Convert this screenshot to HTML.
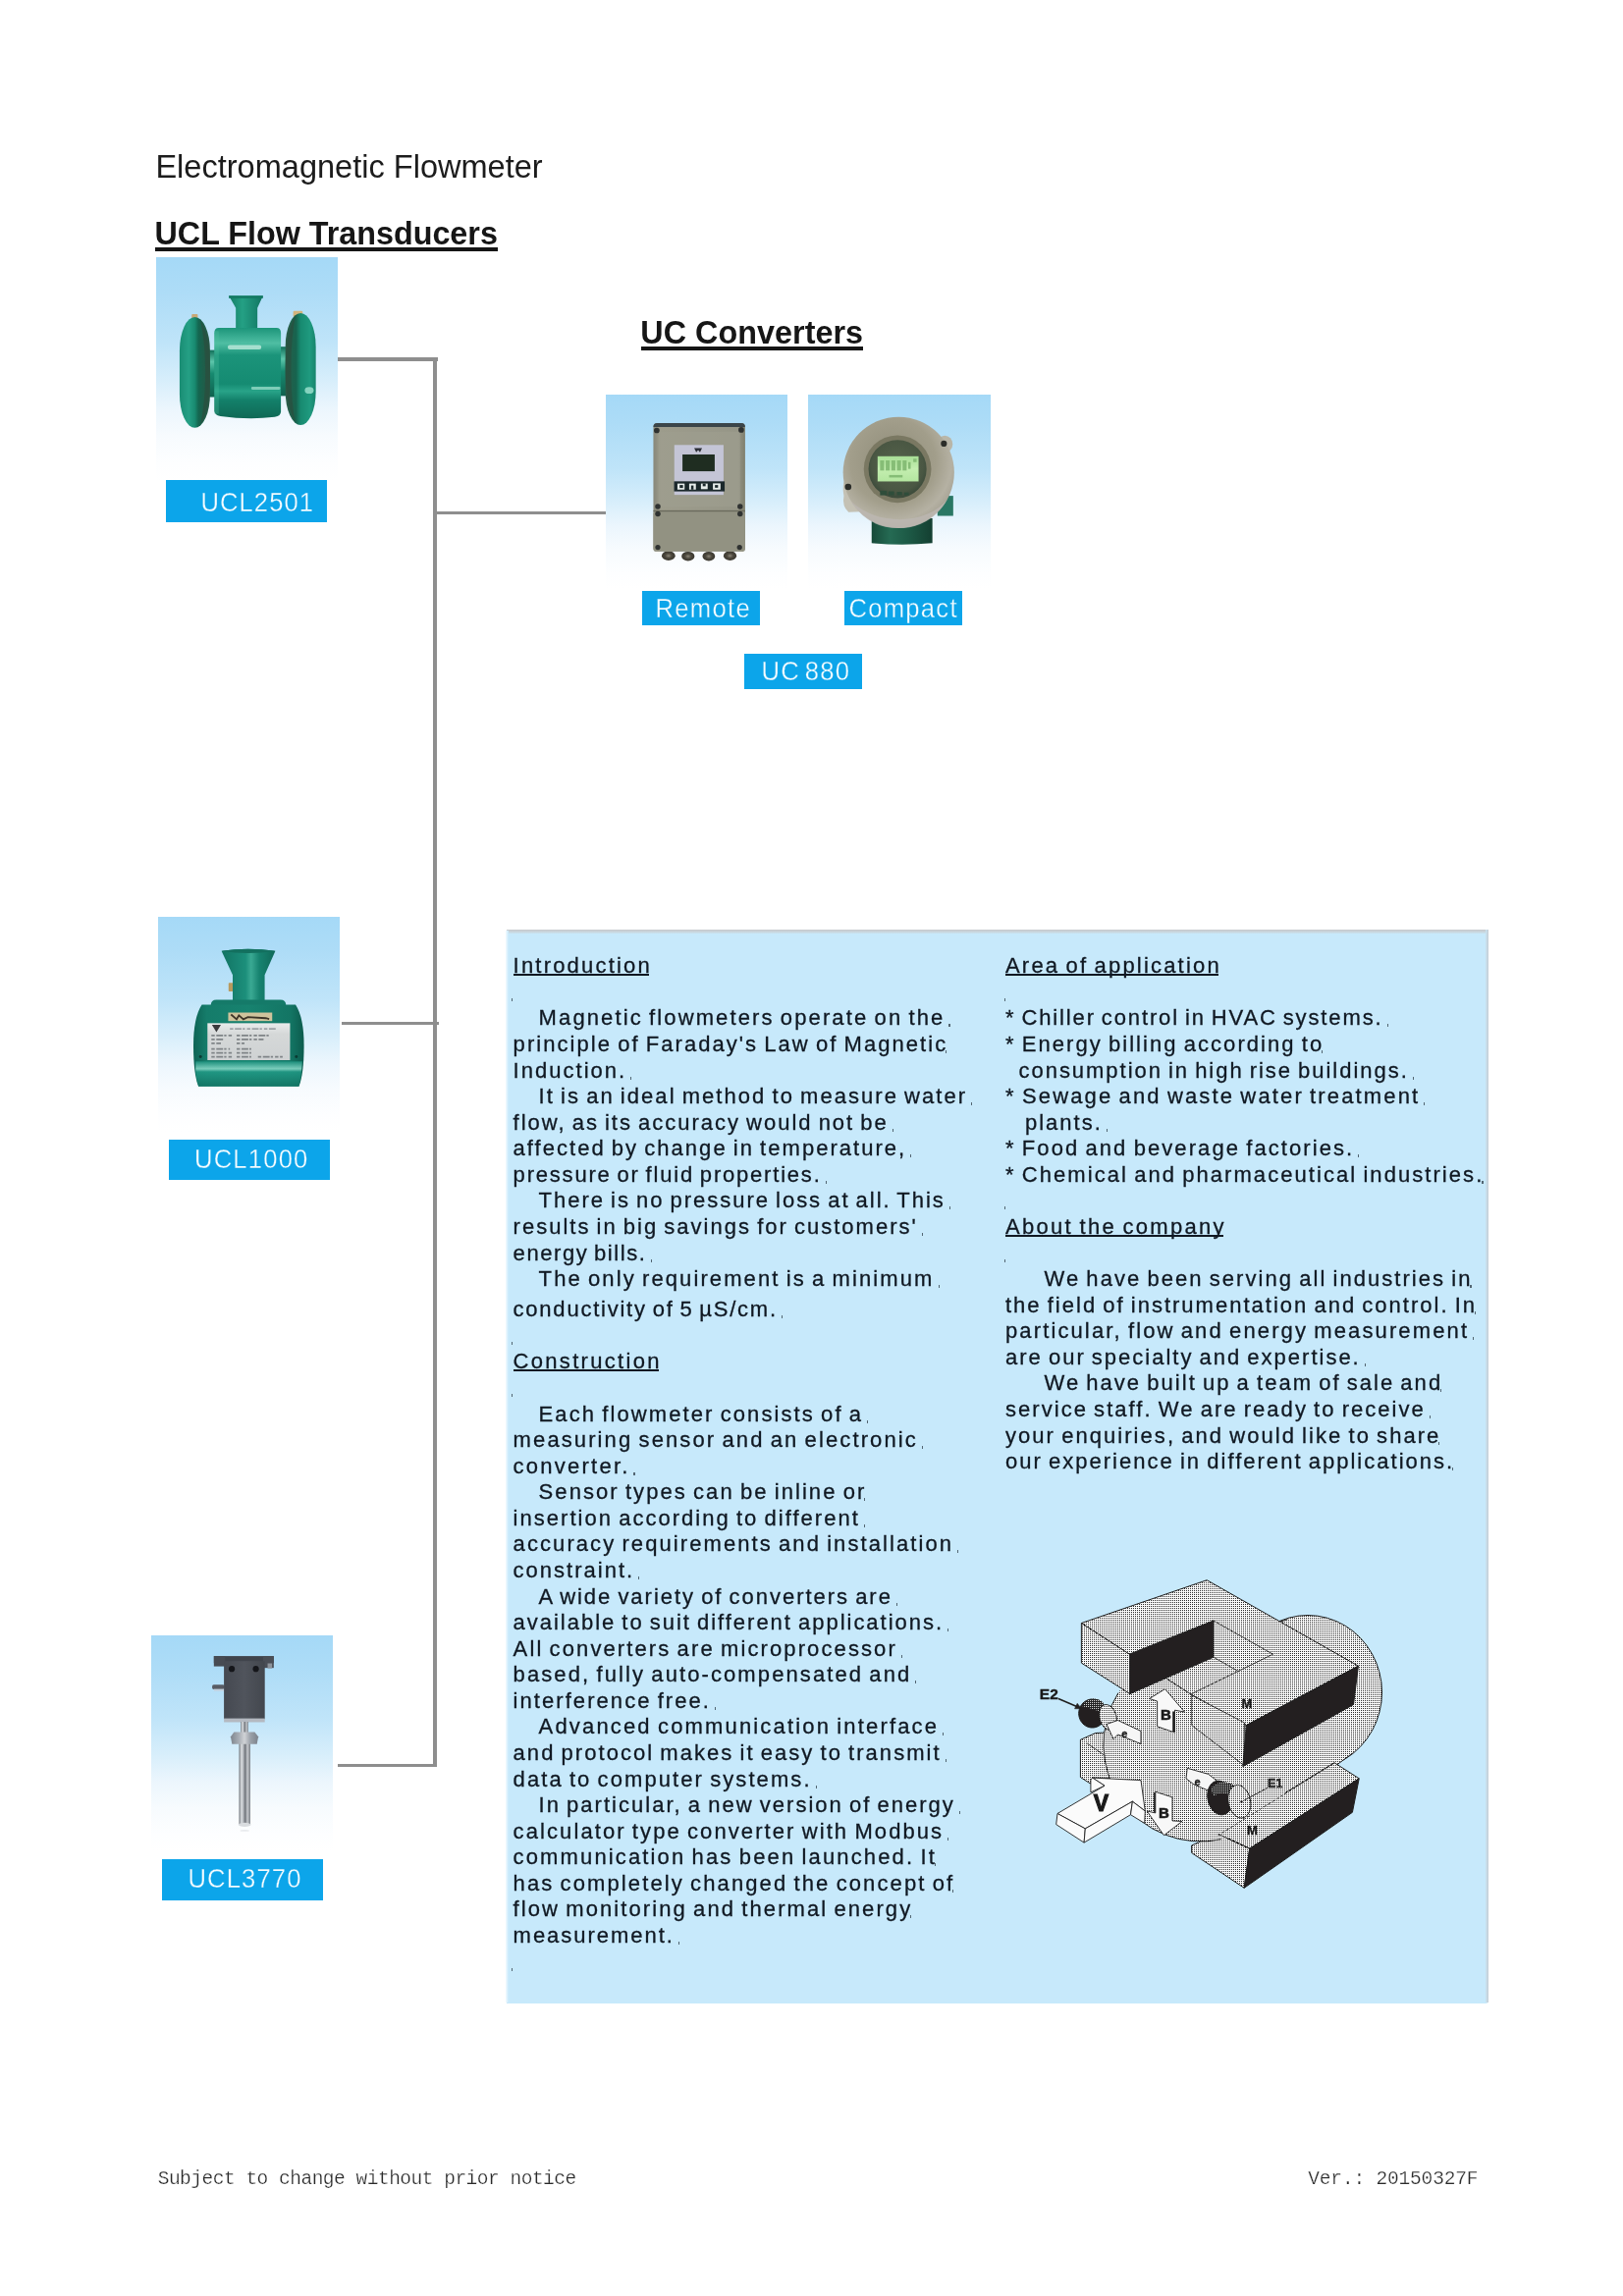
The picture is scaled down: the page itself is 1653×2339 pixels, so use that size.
<!DOCTYPE html>
<html><head><meta charset="utf-8"><title>Electromagnetic Flowmeter</title>
<style>html,body{margin:0;padding:0;background:#fff}
body{width:1653px;height:2339px;position:relative;overflow:hidden;font-family:"Liberation Sans",sans-serif;color:#1a1a1a}
.a{position:absolute}
.t{position:absolute;white-space:pre;line-height:1}
.b{position:absolute;white-space:pre;line-height:1;font-size:22.00px;letter-spacing:1.80px;word-spacing:-2px;color:#101822;-webkit-text-stroke:0.3px #101822}
.u{text-decoration:underline;text-decoration-thickness:1.7px;text-underline-offset:2.2px;text-decoration-skip-ink:none}
.g{position:absolute;background:#8e8e8e}
.k{position:absolute;width:1.2px;height:3px;background:#2c3a46;opacity:.75}
.ph{position:absolute;overflow:hidden}
.lb{position:absolute;background:#0ca5ea}
.ft{position:absolute;white-space:pre;line-height:1;font-family:"Liberation Mono",monospace;color:#2a2a2a;-webkit-text-stroke:0.25px #fff}
svg{position:absolute;left:0;top:0;overflow:visible}
</style></head><body><div id="pg" style="position:absolute;left:0;top:0;width:1653px;height:2339px;will-change:transform">
<div class="t" style="left:158.4px;top:153.8px;font-size:32.55px;color:#1c1c1c">Electromagnetic Flowmeter</div>
<div class="t" style="left:157.5px;top:221.6px;font-size:32.30px;font-weight:bold;color:#161616;transform:scaleY(1.04);transform-origin:0 84.65%">UCL Flow Transducers</div>
<div class="a" style="left:158.3px;top:252.3px;width:348.8px;height:3.5px;background:#161616"></div>
<div class="t" style="left:652.3px;top:322.7px;font-size:32.30px;font-weight:bold;color:#161616;letter-spacing:0.05px;transform:scaleY(1.04);transform-origin:0 84.65%">UC Converters</div>
<div class="a" style="left:653.1px;top:352.9px;width:225.9px;height:3.8px;background:#161616"></div>
<div class="g" style="left:344.0px;top:364.2px;width:102.0px;height:3.5px"></div>
<div class="g" style="left:441.1px;top:364.2px;width:3.9px;height:1435.8px"></div>
<div class="g" style="left:445.0px;top:520.9px;width:171.9px;height:3.1px"></div>
<div class="g" style="left:347.9px;top:1041.0px;width:99.0px;height:3.0px"></div>
<div class="g" style="left:344.0px;top:1797.0px;width:101.0px;height:3.0px"></div>
<div class="ph" style="left:159.0px;top:262.0px;width:185.0px;height:228.0px;background:linear-gradient(#a5d9f7 0%,#addcf7 15%,#bfe4f9 38%,#d7eefb 55%,#ecf6fd 68%,#f7fbfe 80%,#fdfeff 92%,#fff 100%)"><svg width="185" height="228" viewBox="0 0 1623 2000" preserveAspectRatio="none">
<defs>
<linearGradient id="a1" x1="0" y1="0" x2="0" y2="1"><stop offset="0" stop-color="#1c957a"/><stop offset=".17" stop-color="#4fbea3"/><stop offset=".3" stop-color="#1b947a"/><stop offset=".62" stop-color="#158b72"/><stop offset=".7" stop-color="#28a388"/><stop offset=".8" stop-color="#13806a"/><stop offset="1" stop-color="#0f6955"/></linearGradient>
<linearGradient id="a2" x1="0" y1="0" x2="1" y2="0"><stop offset="0" stop-color="#1a8d74"/><stop offset=".3" stop-color="#25a085"/><stop offset=".5" stop-color="#188a70"/><stop offset=".62" stop-color="#146650"/><stop offset="1" stop-color="#2a5543"/></linearGradient>
<linearGradient id="a3" x1="0" y1="0" x2="1" y2="0"><stop offset="0" stop-color="#2c5a47"/><stop offset=".35" stop-color="#17644f"/><stop offset=".5" stop-color="#178a70"/><stop offset=".8" stop-color="#1f9a7f"/><stop offset="1" stop-color="#17846c"/></linearGradient>
<linearGradient id="a4" x1="0" y1="0" x2="0" y2="1"><stop offset="0" stop-color="#116f59"/><stop offset=".25" stop-color="#5cc5aa"/><stop offset=".5" stop-color="#178a70"/><stop offset="1" stop-color="#0f614e"/></linearGradient>
<linearGradient id="a5" x1="0" y1="0" x2="1" y2="0"><stop offset="0" stop-color="#157d66"/><stop offset=".4" stop-color="#24a084"/><stop offset="1" stop-color="#127562"/></linearGradient>
</defs>
<!-- pipes -->
<rect x="420" y="830" width="120" height="420" fill="url(#a4)"/>
<rect x="1100" y="800" width="140" height="440" fill="url(#a4)"/>
<!-- bolts -->
<rect x="318" y="508" width="54" height="60" rx="8" fill="#c9a877"/>
<rect x="1225" y="480" width="84" height="56" rx="10" fill="#d2b37c"/>
<!-- left flange -->
<rect x="210" y="535" width="272" height="990" rx="136" ry="300" fill="url(#a2)"/>
<path d="M395,560 Q482,700 482,1030 Q482,1360 395,1500 Q440,1300 440,1030 Q440,760 395,560 Z" fill="#2a4f3f" opacity=".75"/>
<!-- right flange -->
<rect x="1155" y="500" width="272" height="1000" rx="136" ry="300" fill="url(#a3)"/>
<path d="M1245,520 Q1155,680 1155,1000 Q1155,1320 1245,1480 Q1205,1290 1205,1000 Q1205,720 1245,520 Z" fill="#2a4f3f" opacity=".7"/>
<ellipse cx="1368" cy="1190" rx="40" ry="30" fill="#9fe2cf" opacity=".8"/>
<!-- neck -->
<path d="M650,345 L955,345 L905,455 L905,640 L712,640 L712,455 Z" fill="url(#a5)"/>
<rect x="650" y="345" width="305" height="22" fill="#147a64"/>
<!-- body -->
<path d="M560,632 L1075,632 Q1115,632 1115,680 L1115,1380 Q1115,1420 1060,1428 Q820,1455 575,1420 Q520,1412 520,1370 L520,680 Q520,632 560,632 Z" fill="url(#a1)"/>
<rect x="640" y="785" width="300" height="40" rx="18" fill="#c9efe2" opacity=".75"/>
<rect x="850" y="1158" width="260" height="26" rx="10" fill="#a6e3d0" opacity=".7"/>
<rect x="520" y="660" width="40" height="740" fill="#4fbfa0" opacity=".3"/>
</svg>
</div>
<div class="ph" style="left:160.5px;top:934.0px;width:185.5px;height:219.0px;background:linear-gradient(#a5d9f7 0%,#addcf7 15%,#bfe4f9 38%,#d7eefb 55%,#ecf6fd 68%,#f7fbfe 80%,#fdfeff 92%,#fff 100%)"><svg width="185.5" height="219" viewBox="0 0 1623 1920" preserveAspectRatio="none">
<defs>
<linearGradient id="b1" x1="0" y1="0" x2="1" y2="0"><stop offset="0" stop-color="#0d6455"/><stop offset=".12" stop-color="#157c6a"/><stop offset=".5" stop-color="#17826f"/><stop offset=".88" stop-color="#137564"/><stop offset="1" stop-color="#0c5b4d"/></linearGradient>
<linearGradient id="b2" x1="0" y1="0" x2="1" y2="0"><stop offset="0" stop-color="#127363"/><stop offset=".45" stop-color="#1c8f7b"/><stop offset=".55" stop-color="#3aa993"/><stop offset=".7" stop-color="#178370"/><stop offset="1" stop-color="#106858"/></linearGradient>
<linearGradient id="b3" x1="0" y1="0" x2="0" y2="1"><stop offset="0" stop-color="#1c917e"/><stop offset=".3" stop-color="#8edccb"/><stop offset=".42" stop-color="#219a86"/><stop offset="1" stop-color="#137564"/></linearGradient>
<linearGradient id="b4" x1="0" y1="0" x2="0" y2="1"><stop offset="0" stop-color="#e9ebeb"/><stop offset=".3" stop-color="#d5d8d8"/><stop offset="1" stop-color="#cfd2d3"/></linearGradient>
</defs>
<rect x="628" y="590" width="40" height="76" rx="6" fill="#b89a5e"/>
<path d="M565,305 Q800,270 1045,305 L950,520 L950,760 L665,760 L665,520 Z" fill="url(#b2)"/>
<path d="M565,305 Q800,270 1045,305 Q800,345 565,305 Z" fill="#13705f"/>
<path d="M470,790 Q470,740 520,740 L1090,740 Q1140,740 1140,790 Z" fill="#157a69"/>
<path d="M390,785 L1225,785 Q1300,900 1300,1150 Q1300,1400 1255,1515 L360,1515 Q315,1400 315,1150 Q315,900 390,785 Z" fill="url(#b1)"/>
<path d="M335,1290 L1285,1290 Q1275,1430 1255,1515 L360,1515 Q330,1430 335,1290 Z" fill="url(#b3)" opacity=".85"/>
<rect x="625" y="855" width="392" height="76" fill="#cfc39c"/>
<path d="M650,872 L700,915 L720,880 L760,915 L800,895 L960,905 L990,912" fill="none" stroke="#3d3528" stroke-width="16"/>
<rect x="440" y="950" width="736" height="330" fill="url(#b4)"/>
<path d="M480,965 L560,965 L520,1030 Z" fill="#3a3a3c"/>
<g stroke="#7f8487" stroke-width="16" stroke-dasharray="30 14 60 10 20 18">
<line x1="640" y1="1000" x2="1050" y2="1000" stroke="#9ea3a6"/>
<line x1="475" y1="1060" x2="660" y2="1060"/><line x1="700" y1="1060" x2="1000" y2="1060"/>
<line x1="475" y1="1095" x2="580" y2="1095"/><line x1="700" y1="1095" x2="940" y2="1095"/>
<line x1="475" y1="1130" x2="560" y2="1130"/><line x1="700" y1="1130" x2="770" y2="1130"/>
<line x1="475" y1="1180" x2="640" y2="1180"/><line x1="700" y1="1180" x2="830" y2="1180"/>
<line x1="475" y1="1215" x2="660" y2="1215"/><line x1="700" y1="1215" x2="830" y2="1215"/>
<line x1="475" y1="1250" x2="660" y2="1250"/><line x1="700" y1="1250" x2="830" y2="1250"/><line x1="890" y1="1250" x2="1110" y2="1250"/>
</g>
<circle cx="378" cy="1250" r="13" fill="#0a3a32"/><circle cx="1232" cy="1250" r="13" fill="#0a3a32"/>
</svg>
</div>
<div class="ph" style="left:154.0px;top:1666.0px;width:185.0px;height:220.0px;background:linear-gradient(#a5d9f7 0%,#addcf7 15%,#bfe4f9 38%,#d7eefb 55%,#ecf6fd 68%,#f7fbfe 80%,#fdfeff 92%,#fff 100%)"><svg width="185" height="220" viewBox="0 0 1623 1930" preserveAspectRatio="none">
<defs>
<linearGradient id="c1" x1="0" y1="0" x2="1" y2="0"><stop offset="0" stop-color="#6f747a"/><stop offset=".22" stop-color="#dfe2e5"/><stop offset=".45" stop-color="#9a9ea4"/><stop offset=".55" stop-color="#6e7278"/><stop offset=".75" stop-color="#c9ccd0"/><stop offset="1" stop-color="#73777d"/></linearGradient>
<linearGradient id="c2" x1="0" y1="0" x2="1" y2="0"><stop offset="0" stop-color="#454951"/><stop offset=".5" stop-color="#50545c"/><stop offset="1" stop-color="#43474e"/></linearGradient>
<linearGradient id="c3" x1="0" y1="0" x2="1" y2="0"><stop offset="0" stop-color="#7e858e"/><stop offset=".3" stop-color="#a9aeb5"/><stop offset=".5" stop-color="#d0d3d6"/><stop offset=".72" stop-color="#9aa0a8"/><stop offset="1" stop-color="#7b828b"/></linearGradient>
</defs>
<rect x="545" y="440" width="110" height="42" rx="14" fill="#585c64"/>
<rect x="560" y="478" width="92" height="20" fill="#c5ced8" opacity=".8"/>
<rect x="560" y="185" width="535" height="62" fill="#40444c"/>
<rect x="560" y="185" width="100" height="92" fill="#474b53"/>
<rect x="1000" y="185" width="95" height="106" fill="#4a4e56"/>
<rect x="1040" y="250" width="40" height="45" fill="#8d939b"/>
<rect x="650" y="230" width="365" height="518" fill="url(#c2)"/>
<circle cx="720" cy="300" r="27" fill="#15161a"/><circle cx="935" cy="300" r="27" fill="#15161a"/>
<rect x="650" y="742" width="365" height="34" fill="#b4b9c1"/>
<rect x="800" y="772" width="66" height="100" fill="url(#c1)"/>
<rect x="785" y="965" width="100" height="725" fill="url(#c1)"/>
<path d="M740,865 L925,865 L957,905 L945,972 L722,972 L710,905 Z" fill="url(#c3)"/>
<ellipse cx="835" cy="1692" rx="57" ry="18" fill="#d9dcdf"/>
<ellipse cx="835" cy="1745" rx="40" ry="8" fill="#dfe3e6" opacity=".7"/>
</svg>
</div>
<div class="ph" style="left:617.0px;top:402.0px;width:185.0px;height:198.0px;background:linear-gradient(#a5d9f7 0%,#addcf7 15%,#bfe4f9 38%,#d7eefb 55%,#ecf6fd 68%,#f7fbfe 80%,#fdfeff 92%,#fff 100%)"><svg width="185" height="198" viewBox="0 0 1623 1737" preserveAspectRatio="none">
<defs>
<linearGradient id="d1" x1="0" y1="0" x2="1" y2="0"><stop offset="0" stop-color="#87877a"/><stop offset=".08" stop-color="#9d9c8c"/><stop offset=".92" stop-color="#969687"/><stop offset="1" stop-color="#7f7f6d"/></linearGradient>
<radialGradient id="d2"><stop offset="0" stop-color="#8a8577"/><stop offset=".5" stop-color="#4b473d"/><stop offset="1" stop-color="#3a372f"/></radialGradient>
</defs>
<g fill="url(#d2)"><ellipse cx="560" cy="1440" rx="60" ry="42"/><ellipse cx="735" cy="1445" rx="58" ry="42"/><ellipse cx="920" cy="1445" rx="56" ry="42"/><ellipse cx="1110" cy="1440" rx="58" ry="42"/></g>
<rect x="425" y="255" width="820" height="1147" rx="34" fill="url(#d1)"/>
<path d="M459,255 L1211,255 Q1245,255 1245,290 L425,290 Q425,255 459,255 Z" fill="#3b454a"/>
<rect x="425" y="1045" width="820" height="357" rx="20" fill="#929282"/>
<rect x="425" y="1034" width="820" height="12" fill="#6b6b5d"/>
<rect x="470" y="330" width="730" height="670" fill="#9f9f8f" opacity=".6"/>
<rect x="612" y="450" width="440" height="446" fill="#c4c5d6"/>
<rect x="685" y="535" width="288" height="150" fill="#1f2d21"/>
<path d="M790,478 L860,478 L842,515 L825,495 L808,515 Z" fill="#2a2d35"/>
<rect x="610" y="775" width="452" height="90" fill="#1b282b"/>
<g fill="#e6ecea"><rect x="640" y="795" width="64" height="54"/><rect x="745" y="795" width="60" height="54"/><rect x="850" y="795" width="60" height="50"/><rect x="957" y="793" width="68" height="56"/></g>
<g fill="#1b282b"><rect x="660" y="808" width="30" height="26"/><rect x="762" y="812" width="22" height="37"/><rect x="866" y="795" width="26" height="24"/><rect x="975" y="808" width="28" height="24"/></g>
<g fill="#2f3231"><circle cx="455" cy="320" r="25"/><circle cx="1210" cy="315" r="25"/><circle cx="465" cy="1000" r="24"/><circle cx="1200" cy="1000" r="24"/><circle cx="465" cy="1066" r="24"/><circle cx="1200" cy="1066" r="24"/><circle cx="465" cy="1365" r="23"/><circle cx="1195" cy="1365" r="23"/></g>
</svg>
</div>
<div class="ph" style="left:823.0px;top:402.0px;width:186.0px;height:198.0px;background:linear-gradient(#a5d9f7 0%,#addcf7 15%,#bfe4f9 38%,#d7eefb 55%,#ecf6fd 68%,#f7fbfe 80%,#fdfeff 92%,#fff 100%)"><svg width="186" height="198" viewBox="0 0 1623 1728" preserveAspectRatio="none">
<defs>
<linearGradient id="e1" x1="0" y1="0" x2="1" y2="0"><stop offset="0" stop-color="#174a39"/><stop offset=".3" stop-color="#256a53"/><stop offset=".6" stop-color="#1d5a46"/><stop offset="1" stop-color="#143f31"/></linearGradient>
<radialGradient id="e2" cx=".45" cy=".4" r=".62"><stop offset="0" stop-color="#8f8c79"/><stop offset=".62" stop-color="#a29e8b"/><stop offset=".85" stop-color="#b5b1a3"/><stop offset="1" stop-color="#a5a193"/></radialGradient>
<radialGradient id="e3" cx=".5" cy=".45" r=".55"><stop offset="0" stop-color="#56634c"/><stop offset=".8" stop-color="#4a5743"/><stop offset="1" stop-color="#3b4a3a"/></radialGradient>
<linearGradient id="e4" x1="0" y1="0" x2="0" y2="1"><stop offset="0" stop-color="#a8de96"/><stop offset=".5" stop-color="#c4eeb0"/><stop offset="1" stop-color="#b4e6a0"/></linearGradient>
</defs>
<rect x="1150" y="900" width="140" height="178" fill="#2a7764"/>
<path d="M565,1100 L1105,1100 L1105,1320 Q835,1345 565,1320 Z" fill="url(#e1)"/>
<ellipse cx="1215" cy="440" rx="70" ry="75" fill="#b9b6a8"/>
<path d="M330,760 Q300,800 318,900 Q300,990 360,1045 L470,1040 L440,760 Z" fill="#c4c1b4"/>
<circle cx="805" cy="692" r="494" fill="url(#e2)"/>
<path d="M380,950 Q560,1230 900,1180 Q1120,1140 1240,930 Q1100,1100 820,1110 Q560,1110 380,950 Z" fill="#bdb8b3" opacity=".8"/>
<circle cx="795" cy="662" r="300" fill="#7a7862"/>
<circle cx="795" cy="662" r="258" fill="url(#e3)"/>
<rect x="618" y="548" width="364" height="224" fill="url(#e4)"/>
<g fill="#86bd76"><rect x="640" y="585" width="36" height="90"/><rect x="690" y="585" width="36" height="90"/><rect x="740" y="585" width="36" height="90"/><rect x="790" y="585" width="36" height="90"/><rect x="840" y="585" width="36" height="90"/><rect x="890" y="600" width="22" height="60"/><rect x="720" y="715" width="120" height="22"/><rect x="935" y="570" width="30" height="30"/></g>
<g fill="#2f4d3a"><rect x="640" y="855" width="60" height="40"/><rect x="715" y="860" width="50" height="35"/><rect x="790" y="865" width="45" height="30"/><rect x="855" y="870" width="40" height="25"/></g>
<circle cx="1207" cy="436" r="27" fill="#2b2d29"/>
<circle cx="356" cy="820" r="29" fill="#2b2d29"/>
</svg>
</div>
<div class="lb" style="left:169.0px;top:489.1px;width:164.0px;height:43.3px"></div><div class="t" style="left:204.5px;top:500.3px;font-size:25.60px;letter-spacing:1.05px;word-spacing:0.00px;color:#f6fcff;-webkit-text-stroke:0.3px #0ca5ea;transform:scaleY(1.085);transform-origin:0 84.65%">UCL2501</div>
<div class="lb" style="left:172.0px;top:1160.9px;width:164.0px;height:40.8px"></div><div class="t" style="left:198.0px;top:1168.5px;font-size:25.60px;letter-spacing:1.20px;word-spacing:0.00px;color:#f6fcff;-webkit-text-stroke:0.3px #0ca5ea;transform:scaleY(1.085);transform-origin:0 84.65%">UCL1000</div>
<div class="lb" style="left:165.0px;top:1894.1px;width:164.1px;height:41.8px"></div><div class="t" style="left:191.4px;top:1902.3px;font-size:25.60px;letter-spacing:1.15px;word-spacing:0.00px;color:#f6fcff;-webkit-text-stroke:0.3px #0ca5ea;transform:scaleY(1.085);transform-origin:0 84.65%">UCL3770</div>
<div class="lb" style="left:654.0px;top:602.2px;width:120.0px;height:35.0px"></div><div class="t" style="left:667.5px;top:608.3px;font-size:25.60px;letter-spacing:1.30px;word-spacing:0.00px;color:#f6fcff;-webkit-text-stroke:0.3px #0ca5ea;transform:scaleY(1.060);transform-origin:0 84.65%">Remote</div>
<div class="lb" style="left:860.0px;top:602.2px;width:120.0px;height:35.0px"></div><div class="t" style="left:864.5px;top:608.3px;font-size:25.60px;letter-spacing:1.27px;word-spacing:0.00px;color:#f6fcff;-webkit-text-stroke:0.3px #0ca5ea;transform:scaleY(1.060);transform-origin:0 84.65%">Compact</div>
<div class="lb" style="left:758.2px;top:666.1px;width:119.8px;height:35.5px"></div><div class="t" style="left:775.5px;top:672.4px;font-size:25.60px;letter-spacing:1.25px;word-spacing:-3.50px;color:#f6fcff;-webkit-text-stroke:0.3px #0ca5ea;transform:scaleY(1.060);transform-origin:0 84.65%">UC 880</div>
<div class="a" style="left:515.5px;top:947px;width:1000.3px;height:1093.7px;background:#c7e9fb;border-radius:0 0 3px 0"></div>
<div class="a" style="left:515.5px;top:947px;width:1000.3px;height:4px;background:linear-gradient(#c6c8cb,#c9d6de 60%,#c9e4f2)"></div>
<div class="a" style="left:514.6px;top:948px;width:3.6px;height:1092px;background:linear-gradient(90deg,#f4fbff,#c7e9fb)"></div>
<div class="a" style="left:1512.5px;top:947px;width:3.3px;height:1093.3px;background:linear-gradient(90deg,#c9e4f2,#c4ccd4)"></div>
<div class="b" style="left:522.6px;top:972.8px;letter-spacing:2.20px">Introduction</div>
<div class="a" style="left:522.8px;top:992.2px;width:138.2px;height:2px;background:#101822"></div>
<div class="b" style="left:548.6px;top:1025.8px;letter-spacing:2.12px">Magnetic flowmeters operate on the</div>
<i class="k" style="left:966.4px;top:1043.2px"></i><div class="b" style="left:522.6px;top:1052.8px;letter-spacing:2.05px">principle of Faraday's Law of Magnetic</div>
<i class="k" style="left:963.0px;top:1070.2px"></i><div class="b" style="left:522.6px;top:1079.8px;letter-spacing:2.02px">Induction.</div>
<i class="k" style="left:642.2px;top:1097.2px"></i><div class="b" style="left:548.6px;top:1105.8px;letter-spacing:2.04px">It is an ideal method to measure water</div>
<i class="k" style="left:989.2px;top:1123.2px"></i><div class="b" style="left:522.6px;top:1132.8px;letter-spacing:1.99px">flow, as its accuracy would not be</div>
<i class="k" style="left:908.8px;top:1150.2px"></i><div class="b" style="left:522.6px;top:1158.8px;letter-spacing:2.03px">affected by change in temperature,</div>
<i class="k" style="left:927.3px;top:1176.2px"></i><div class="b" style="left:522.6px;top:1185.8px;letter-spacing:1.80px">pressure or fluid properties.</div>
<i class="k" style="left:840.8px;top:1203.2px"></i><div class="b" style="left:548.6px;top:1211.8px;letter-spacing:1.98px">There is no pressure loss at all. This</div>
<i class="k" style="left:966.7px;top:1229.2px"></i><div class="b" style="left:522.6px;top:1238.8px;letter-spacing:2.01px">results in big savings for customers'</div>
<i class="k" style="left:938.6px;top:1256.2px"></i><div class="b" style="left:522.6px;top:1265.8px;letter-spacing:1.58px">energy bills.</div>
<i class="k" style="left:663.0px;top:1283.2px"></i><div class="b" style="left:548.6px;top:1291.8px;letter-spacing:2.10px">The only requirement is a minimum</div>
<i class="k" style="left:955.5px;top:1309.2px"></i><div class="b" style="left:522.6px;top:1322.8px;letter-spacing:1.77px">conductivity of 5 µS/cm.</div>
<i class="k" style="left:796.0px;top:1340.2px"></i><div class="b" style="left:522.6px;top:1375.8px;letter-spacing:2.30px">Construction</div>
<div class="a" style="left:522.8px;top:1395.2px;width:147.8px;height:2px;background:#101822"></div>
<div class="b" style="left:548.6px;top:1429.8px;letter-spacing:2.09px">Each flowmeter consists of a</div>
<i class="k" style="left:883.1px;top:1447.2px"></i><div class="b" style="left:522.6px;top:1455.8px;letter-spacing:2.11px">measuring sensor and an electronic</div>
<i class="k" style="left:938.6px;top:1473.2px"></i><div class="b" style="left:522.6px;top:1482.8px;letter-spacing:2.24px">converter.</div>
<i class="k" style="left:645.4px;top:1500.2px"></i><div class="b" style="left:548.6px;top:1508.8px;letter-spacing:2.07px">Sensor types can be inline or</div>
<i class="k" style="left:880.3px;top:1526.2px"></i><div class="b" style="left:522.6px;top:1535.8px;letter-spacing:2.03px">insertion according to different</div>
<i class="k" style="left:879.9px;top:1553.2px"></i><div class="b" style="left:522.6px;top:1561.8px;letter-spacing:2.08px">accuracy requirements and installation</div>
<i class="k" style="left:974.8px;top:1579.2px"></i><div class="b" style="left:522.6px;top:1588.8px;letter-spacing:2.01px">constraint.</div>
<i class="k" style="left:650.2px;top:1606.2px"></i><div class="b" style="left:548.6px;top:1615.8px;letter-spacing:1.98px">A wide variety of converters are</div>
<i class="k" style="left:912.9px;top:1633.2px"></i><div class="b" style="left:522.6px;top:1641.8px;letter-spacing:1.98px">available to suit different applications.</div>
<i class="k" style="left:965.1px;top:1659.2px"></i><div class="b" style="left:522.6px;top:1668.8px;letter-spacing:2.11px">All converters are microprocessor</div>
<i class="k" style="left:917.7px;top:1686.2px"></i><div class="b" style="left:522.6px;top:1694.8px;letter-spacing:2.10px">based, fully auto-compensated and</div>
<i class="k" style="left:932.1px;top:1712.2px"></i><div class="b" style="left:522.6px;top:1721.8px;letter-spacing:2.06px">interference free.</div>
<i class="k" style="left:728.0px;top:1739.2px"></i><div class="b" style="left:548.6px;top:1747.8px;letter-spacing:2.16px">Advanced communication interface</div>
<i class="k" style="left:960.0px;top:1765.2px"></i><div class="b" style="left:522.6px;top:1774.8px;letter-spacing:2.04px">and protocol makes it easy to transmit</div>
<i class="k" style="left:962.6px;top:1792.2px"></i><div class="b" style="left:522.6px;top:1801.8px;letter-spacing:2.08px">data to computer systems.</div>
<i class="k" style="left:830.6px;top:1819.2px"></i><div class="b" style="left:548.6px;top:1827.8px;letter-spacing:2.02px">In particular, a new version of energy</div>
<i class="k" style="left:977.0px;top:1845.2px"></i><div class="b" style="left:522.6px;top:1854.8px;letter-spacing:2.09px">calculator type converter with Modbus</div>
<i class="k" style="left:965.1px;top:1872.2px"></i><div class="b" style="left:522.6px;top:1880.8px;letter-spacing:2.14px">communication has been launched. It</div>
<i class="k" style="left:951.8px;top:1898.2px"></i><div class="b" style="left:522.6px;top:1907.8px;letter-spacing:2.11px">has completely changed the concept of</div>
<i class="k" style="left:970.0px;top:1925.2px"></i><div class="b" style="left:522.6px;top:1933.8px;letter-spacing:2.09px">flow monitoring and thermal energy</div>
<i class="k" style="left:927.1px;top:1951.2px"></i><div class="b" style="left:522.6px;top:1960.8px;letter-spacing:1.97px">measurement.</div>
<i class="k" style="left:690.9px;top:1978.2px"></i><div class="b" style="left:1024.0px;top:972.8px;letter-spacing:2.19px">Area of application</div>
<div class="a" style="left:1024.2px;top:992.2px;width:216.6px;height:2px;background:#101822"></div>
<div class="b" style="left:1024.0px;top:1025.8px;letter-spacing:1.87px">* Chiller control in HVAC systems.</div>
<i class="k" style="left:1412.6px;top:1043.2px"></i><div class="b" style="left:1024.0px;top:1052.8px;letter-spacing:2.05px">* Energy billing according to</div>
<i class="k" style="left:1346.1px;top:1070.2px"></i><div class="b" style="left:1037.5px;top:1079.8px;letter-spacing:1.97px">consumption in high rise buildings.</div>
<i class="k" style="left:1438.7px;top:1097.2px"></i><div class="b" style="left:1024.0px;top:1105.8px;letter-spacing:2.14px">* Sewage and waste water treatment</div>
<i class="k" style="left:1450.1px;top:1123.2px"></i><div class="b" style="left:1044.0px;top:1132.8px;letter-spacing:2.00px">plants.</div>
<i class="k" style="left:1126.8px;top:1150.2px"></i><div class="b" style="left:1024.0px;top:1158.8px;letter-spacing:2.08px">* Food and beverage factories.</div>
<i class="k" style="left:1383.2px;top:1176.2px"></i><div class="b" style="left:1024.0px;top:1185.8px;letter-spacing:2.06px">* Chemical and pharmaceutical industries.</div>
<i class="k" style="left:1509.4px;top:1203.2px"></i><div class="b" style="left:1024.0px;top:1238.8px;letter-spacing:2.31px">About the company</div>
<div class="a" style="left:1024.2px;top:1258.2px;width:221.5px;height:2px;background:#101822"></div>
<div class="b" style="left:1063.5px;top:1291.8px;letter-spacing:2.05px">We have been serving all industries in</div>
<i class="k" style="left:1497.4px;top:1309.2px"></i><div class="b" style="left:1024.0px;top:1318.8px;letter-spacing:2.01px">the field of instrumentation and control. In</div>
<i class="k" style="left:1501.9px;top:1336.2px"></i><div class="b" style="left:1024.0px;top:1344.8px;letter-spacing:2.12px">particular, flow and energy measurement</div>
<i class="k" style="left:1500.1px;top:1362.2px"></i><div class="b" style="left:1024.0px;top:1371.8px;letter-spacing:2.00px">are our specialty and expertise.</div>
<i class="k" style="left:1389.7px;top:1389.2px"></i><div class="b" style="left:1063.5px;top:1397.8px;letter-spacing:2.03px">We have built up a team of sale and</div>
<i class="k" style="left:1467.0px;top:1415.2px"></i><div class="b" style="left:1024.0px;top:1424.8px;letter-spacing:2.04px">service staff. We are ready to receive</div>
<i class="k" style="left:1455.7px;top:1442.2px"></i><div class="b" style="left:1024.0px;top:1451.8px;letter-spacing:2.05px">your enquiries, and would like to share</div>
<i class="k" style="left:1465.3px;top:1469.2px"></i><div class="b" style="left:1024.0px;top:1477.8px;letter-spacing:2.02px">our experience in different applications.</div>
<i class="k" style="left:1479.1px;top:1495.2px"></i><i class="k" style="left:521.3px;top:1017.2px"></i><i class="k" style="left:521.3px;top:1367.2px"></i><i class="k" style="left:521.3px;top:1420.2px"></i><i class="k" style="left:521.3px;top:2005.2px"></i><i class="k" style="left:1023.2px;top:1017.2px"></i><i class="k" style="left:1023.2px;top:1229.2px"></i><i class="k" style="left:1023.2px;top:1283.2px"></i>
<svg width="1653" height="2339" viewBox="0 0 1653 2339" style="pointer-events:none">
<defs><pattern id="dt" x="0" y="0" width="2" height="2" patternUnits="userSpaceOnUse"><rect width="2" height="2" fill="#fbfbfb"/><rect width="1" height="1" fill="#2b2b2b"/></pattern>
<pattern id="dk" x="0" y="0" width="2" height="2" patternUnits="userSpaceOnUse"><rect width="2" height="2" fill="#222"/><rect width="1" height="1" fill="#ddd"/></pattern></defs>
<polygon points="1407.5,1724.0 1406.9,1734.2 1404.9,1744.3 1401.8,1754.0 1397.4,1763.2 1391.9,1771.8 1385.4,1779.5 1378.0,1786.3 1369.8,1792.0 1360.9,1796.5 1351.5,1799.8 1341.9,1801.8 1332.0,1802.5 1322.1,1801.8 1312.5,1799.8 1303.1,1796.5 1294.2,1792.0 1286.0,1786.3 1278.6,1779.5 1272.1,1771.8 1266.6,1763.2 1262.2,1754.0 1259.1,1744.3 1257.1,1734.2 1256.5,1724.0 1257.1,1713.8 1259.1,1703.7 1262.2,1694.0 1266.6,1684.8 1272.1,1676.2 1278.6,1668.5 1286.0,1661.7 1294.2,1656.0 1303.1,1651.5 1312.5,1648.2 1322.1,1646.2 1332.0,1645.5 1341.9,1646.2 1351.5,1648.2 1360.9,1651.5 1369.8,1656.0 1378.0,1661.7 1385.4,1668.5 1391.9,1676.2 1397.4,1684.8 1401.8,1694.0 1404.9,1703.7 1406.9,1713.8" fill="url(#dt)" stroke="#1e1e1e" stroke-width="1.00" stroke-linejoin="round" />
<polygon points="1281.7,1856.7 1377.7,1786.0 1311.5,1649.8 1196.6,1681.6" fill="url(#dt)" stroke="none" stroke-width="1.00" stroke-linejoin="round" />
<polyline points="1281.7,1856.7 1377.7,1786.0" fill="none" stroke="#1e1e1e" stroke-width="1.00" />
<polyline points="1196.6,1681.6 1311.5,1649.8" fill="none" stroke="#1e1e1e" stroke-width="1.00" />
<polygon points="1100.4,1772.3 1115.8,1765.5 1145.0,1764.0 1145.0,1812.0 1112.7,1811.1 1110.5,1817.0 1100.4,1810.5" fill="url(#dt)" stroke="#1e1e1e" stroke-width="1.00" stroke-linejoin="round" />
<polyline points="1107.2,1776.0 1125.0,1788.3" fill="none" stroke="#1e1e1e" stroke-width="0.80" />
<polygon points="1240.7,1868.4 1359.0,1795.7 1384.2,1811.8 1272.7,1883.2" fill="url(#dt)" stroke="#1e1e1e" stroke-width="1.00" stroke-linejoin="round" />
<polygon points="1213.6,1880.0 1240.7,1868.4 1272.7,1883.2 1267.2,1923.3 1213.6,1887.5" fill="url(#dt)" stroke="#1e1e1e" stroke-width="1.00" stroke-linejoin="round" />
<polygon points="1272.7,1883.2 1384.2,1811.8 1377.4,1846.3 1267.2,1923.3" fill="#231f20" stroke="#1e1e1e" stroke-width="1.00" stroke-linejoin="round" />
<circle cx="1223.0" cy="1777.0" r="99.0" fill="url(#dt)" stroke="none" stroke-width="1.00"/>
<path d="M1139.0,1724.5 A99.0,99.0 0 0 0 1243.6,1873.8" fill="none" stroke="#1e1e1e" stroke-width="1.00"/>
<polyline points="1357.7,1797.0 1240.7,1869.7" fill="none" stroke="#1e1e1e" stroke-width="0.80" stroke-dasharray="3 2"/>
<polyline points="1240.7,1868.4 1272.7,1883.2" fill="none" stroke="#1e1e1e" stroke-width="0.80" />
<polygon points="1101.4,1653.5 1229.2,1609.7 1383.4,1697.2 1269.4,1757.6 1213.7,1726.5 1150.9,1686.0" fill="url(#dt)" stroke="#1e1e1e" stroke-width="1.00" stroke-linejoin="round" />
<polygon points="1101.4,1653.5 1150.9,1685.5 1150.9,1725.6 1101.4,1694.1" fill="url(#dt)" stroke="#1e1e1e" stroke-width="1.00" stroke-linejoin="round" />
<polygon points="1150.9,1684.9 1235.9,1651.0 1235.9,1688.2 1150.9,1725.6" fill="#231f20" stroke="#1e1e1e" stroke-width="1.00" stroke-linejoin="round" />
<polyline points="1235.9,1651.0 1296.5,1685.2 1212.8,1726.0" fill="none" stroke="#1e1e1e" stroke-width="0.80" />
<polyline points="1235.9,1688.2 1262.0,1703.0" fill="none" stroke="#1e1e1e" stroke-width="0.80" />
<polygon points="1213.7,1727.0 1267.5,1755.0 1267.0,1798.5 1213.7,1757.5" fill="url(#dt)" stroke="#1e1e1e" stroke-width="0.80" stroke-linejoin="round" />
<polygon points="1269.4,1757.6 1383.4,1697.2 1378.5,1736.5 1265.8,1799.6" fill="#231f20" stroke="#1e1e1e" stroke-width="1.00" stroke-linejoin="round" />
<text x="1270.0" y="1739.5" font-family="Liberation Sans,sans-serif" font-weight="bold" font-size="13.0" fill="#1a1a1a" stroke="#1a1a1a" stroke-width="0.35" text-anchor="middle">M</text>
<text x="1275.5" y="1868.5" font-family="Liberation Sans,sans-serif" font-weight="bold" font-size="13.0" fill="#1a1a1a" stroke="#1a1a1a" stroke-width="0.35" text-anchor="middle">M</text>
<polygon points="1126.3,1745.5 1126.2,1747.4 1125.8,1749.3 1125.2,1751.0 1124.5,1752.8 1123.4,1754.3 1122.3,1755.8 1120.9,1757.0 1119.4,1758.1 1117.8,1758.9 1116.1,1759.5 1114.3,1759.9 1112.5,1760.0 1110.7,1759.9 1108.9,1759.5 1107.2,1758.9 1105.6,1758.1 1104.1,1757.0 1102.7,1755.8 1101.6,1754.3 1100.5,1752.8 1099.8,1751.0 1099.2,1749.3 1098.8,1747.4 1098.7,1745.5 1098.8,1743.6 1099.2,1741.7 1099.8,1740.0 1100.5,1738.2 1101.6,1736.7 1102.7,1735.2 1104.1,1734.0 1105.6,1732.9 1107.2,1732.1 1108.9,1731.5 1110.7,1731.1 1112.5,1731.0 1114.3,1731.1 1116.1,1731.5 1117.8,1732.1 1119.4,1732.9 1120.9,1734.0 1122.3,1735.2 1123.4,1736.7 1124.5,1738.2 1125.2,1740.0 1125.8,1741.7 1126.2,1743.6" fill="#231f20" stroke="#1e1e1e" stroke-width="1.00" stroke-linejoin="round" />
<path d="M1102,1738 A13.8,14.5 0 0 1 1124,1735 L1122,1744 Z" fill="url(#dk)"/>
<polygon points="1136.7,1747.3 1137.1,1749.0 1137.3,1750.7 1137.4,1752.3 1137.3,1754.0 1137.1,1755.5 1136.7,1757.0 1136.2,1758.3 1135.6,1759.4 1134.8,1760.4 1133.9,1761.2 1133.0,1761.9 1131.9,1762.3 1130.8,1762.4 1129.7,1762.4 1128.5,1762.1 1127.4,1761.6 1126.2,1761.0 1125.1,1760.1 1124.1,1759.0 1123.1,1757.8 1122.2,1756.4 1121.5,1754.9 1120.8,1753.3 1120.3,1751.7 1119.9,1750.0 1119.7,1748.3 1119.6,1746.7 1119.7,1745.0 1119.9,1743.5 1120.3,1742.0 1120.8,1740.7 1121.4,1739.6 1122.2,1738.6 1123.1,1737.8 1124.0,1737.1 1125.1,1736.7 1126.2,1736.6 1127.3,1736.6 1128.5,1736.9 1129.6,1737.4 1130.8,1738.0 1131.9,1738.9 1132.9,1740.0 1133.9,1741.2 1134.8,1742.6 1135.5,1744.1 1136.2,1745.7" fill="url(#dt)" stroke="#1e1e1e" stroke-width="1.00" stroke-linejoin="round" />
<text x="1068.3" y="1730.6" font-family="Liberation Sans,sans-serif" font-weight="bold" font-size="15.5" fill="#1a1a1a" stroke="#1a1a1a" stroke-width="0.35" text-anchor="middle">E2</text>
<polyline points="1078.0,1730.5 1099.0,1739.5" fill="none" stroke="#1e1e1e" stroke-width="1.60" />
<polygon points="1101.5,1740.7 1094.5,1740.8 1097.2,1735.2" fill="#231f20" stroke="#1e1e1e" stroke-width="0.50" stroke-linejoin="round" />
<polygon points="1127.0,1756.5 1138.5,1752.5 1162.0,1763.5 1162.0,1776.5 1138.5,1767.0 1134.0,1771.5" fill="#f6f6f6" stroke="#1e1e1e" stroke-width="0.90" stroke-linejoin="round" />
<text x="1145.3" y="1769.5" font-family="Liberation Sans,sans-serif" font-weight="bold" font-size="11.0" fill="#1a1a1a" stroke="#1a1a1a" stroke-width="0.35" text-anchor="middle">e</text>
<polygon points="1186.6,1720.6 1170.6,1730.5 1178.6,1733.0 1178.6,1758.8 1196.5,1765.0 1196.5,1742.2 1206.4,1744.0" fill="#f8f8f8" stroke="#1e1e1e" stroke-width="0.90" stroke-linejoin="round" />
<polyline points="1195.2,1743.5 1195.2,1764.0" fill="none" stroke="#1e1e1e" stroke-width="2.00" />
<text x="1187.3" y="1751.5" font-family="Liberation Sans,sans-serif" font-weight="bold" font-size="15.0" fill="#1a1a1a" stroke="#1a1a1a" stroke-width="0.60" text-anchor="middle">B</text>
<polygon points="1077.0,1847.5 1125.0,1819.1 1112.7,1811.1 1162.0,1813.6 1166.3,1845.0 1153.4,1835.2 1105.3,1862.9" fill="#fbfbfb" stroke="#1e1e1e" stroke-width="0.90" stroke-linejoin="round" />
<polygon points="1077.0,1847.5 1105.3,1862.9 1104.1,1877.1 1075.7,1858.6" fill="#fbfbfb" stroke="#1e1e1e" stroke-width="0.90" stroke-linejoin="round" />
<polygon points="1105.3,1862.9 1153.4,1835.2 1151.5,1848.7 1104.1,1877.1" fill="#fbfbfb" stroke="#1e1e1e" stroke-width="0.90" stroke-linejoin="round" />
<polygon points="1153.4,1835.2 1166.3,1845.0 1165.7,1857.4 1151.5,1848.7" fill="#fbfbfb" stroke="#1e1e1e" stroke-width="0.90" stroke-linejoin="round" />
<polygon points="1112.7,1811.1 1125.0,1819.1 1110.9,1825.9 1110.9,1813.0" fill="#fbfbfb" stroke="#1e1e1e" stroke-width="0.90" stroke-linejoin="round" />
<text x="1121.5" y="1844.5" font-family="Liberation Sans,sans-serif" font-weight="bold" font-size="23.0" fill="#1a1a1a" stroke="#1a1a1a" stroke-width="1.10" text-anchor="middle">V</text>
<polygon points="1176.8,1825.3 1194.0,1830.9 1194.0,1854.9 1203.9,1855.5 1185.4,1869.7 1168.2,1845.0 1176.8,1846.9" fill="#f8f8f8" stroke="#1e1e1e" stroke-width="0.90" stroke-linejoin="round" />
<polyline points="1175.9,1825.9 1175.9,1846.3" fill="none" stroke="#1e1e1e" stroke-width="1.60" />
<text x="1185.5" y="1851.5" font-family="Liberation Sans,sans-serif" font-weight="bold" font-size="15.0" fill="#1a1a1a" stroke="#1a1a1a" stroke-width="0.60" text-anchor="middle">B</text>
<polygon points="1209.2,1801.3 1230.8,1807.4 1239.4,1814.2 1230.8,1824.1 1216.0,1817.9 1208.0,1811.8" fill="#f6f6f6" stroke="#1e1e1e" stroke-width="0.90" stroke-linejoin="round" />
<text x="1219.5" y="1818.5" font-family="Liberation Sans,sans-serif" font-weight="bold" font-size="11.0" fill="#1a1a1a" stroke="#1a1a1a" stroke-width="0.35" text-anchor="middle">e</text>
<polygon points="1254.7,1828.9 1255.1,1831.2 1255.3,1833.4 1255.2,1835.6 1254.9,1837.8 1254.4,1839.9 1253.7,1841.8 1252.8,1843.5 1251.8,1845.0 1250.5,1846.3 1249.2,1847.4 1247.7,1848.1 1246.1,1848.6 1244.5,1848.8 1242.8,1848.7 1241.2,1848.3 1239.5,1847.6 1237.9,1846.7 1236.4,1845.4 1235.0,1844.0 1233.7,1842.3 1232.6,1840.5 1231.6,1838.4 1230.9,1836.3 1230.3,1834.1 1229.9,1831.8 1229.7,1829.6 1229.8,1827.4 1230.1,1825.2 1230.6,1823.1 1231.3,1821.2 1232.2,1819.5 1233.2,1818.0 1234.5,1816.7 1235.8,1815.6 1237.3,1814.9 1238.9,1814.4 1240.5,1814.2 1242.2,1814.3 1243.8,1814.7 1245.5,1815.4 1247.1,1816.3 1248.6,1817.6 1250.0,1819.0 1251.3,1820.7 1252.4,1822.5 1253.4,1824.6 1254.1,1826.7" fill="#231f20" stroke="#1e1e1e" stroke-width="1.00" stroke-linejoin="round" />
<path d="M1233,1822 Q1243,1810 1258,1819 L1252,1829 Q1243,1824 1236,1830 Z" fill="url(#dk)"/>
<polygon points="1273.3,1832.9 1273.6,1835.1 1273.8,1837.3 1273.8,1839.4 1273.6,1841.5 1273.1,1843.5 1272.5,1845.3 1271.8,1847.0 1270.8,1848.4 1269.8,1849.7 1268.5,1850.7 1267.2,1851.4 1265.8,1851.8 1264.4,1852.0 1262.9,1851.9 1261.4,1851.5 1259.9,1850.8 1258.4,1849.8 1257.1,1848.6 1255.8,1847.2 1254.6,1845.5 1253.5,1843.7 1252.6,1841.8 1251.9,1839.7 1251.3,1837.5 1251.0,1835.3 1250.8,1833.1 1250.8,1831.0 1251.0,1828.9 1251.5,1826.9 1252.1,1825.1 1252.8,1823.4 1253.8,1822.0 1254.8,1820.7 1256.1,1819.7 1257.4,1819.0 1258.8,1818.6 1260.2,1818.4 1261.7,1818.5 1263.2,1818.9 1264.7,1819.6 1266.2,1820.6 1267.5,1821.8 1268.8,1823.2 1270.0,1824.9 1271.1,1826.7 1272.0,1828.6 1272.7,1830.7" fill="url(#dt)" stroke="#1e1e1e" stroke-width="1.00" stroke-linejoin="round" />
<circle cx="1264.5" cy="1835.5" r="1.2" fill="#231f20" stroke="none" stroke-width="1.00"/>
<polyline points="1290.6,1821.5 1267.2,1834.0" fill="none" stroke="#1e1e1e" stroke-width="0.90" />
<text x="1298.6" y="1820.6" font-family="Liberation Sans,sans-serif" font-weight="bold" font-size="12.5" fill="#1a1a1a" stroke="#1a1a1a" stroke-width="0.35" text-anchor="middle">E1</text>
</svg>
<div class="ft" style="left:160.7px;top:2210.9px;font-size:19.5px;letter-spacing:-0.49px">Subject to change without prior notice</div>
<div class="ft" style="left:1332.3px;top:2210.9px;font-size:19.5px;letter-spacing:-0.17px">Ver.: 20150327F</div>
</div></body></html>
